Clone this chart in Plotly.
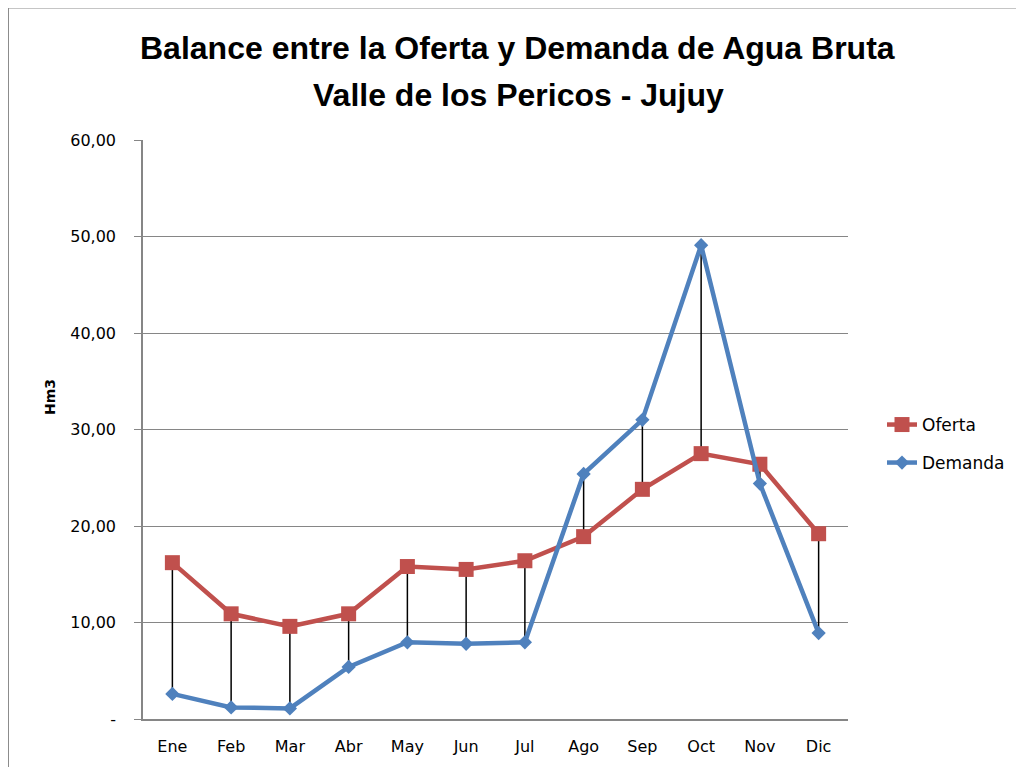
import plotly.graph_objects as go

meses = ["Ene", "Feb", "Mar", "Abr", "May", "Jun", "Jul", "Ago", "Sep", "Oct", "Nov", "Dic"]
oferta = [16.2, 10.9, 9.6, 10.9, 15.8, 15.5, 16.4, 18.9, 23.8, 27.5, 26.4, 19.2]
demanda = [2.6, 1.2, 1.1, 5.4, 7.95, 7.8, 7.95, 25.4, 31.0, 49.1, 24.4, 8.9]
y_ticks = [0, 10, 20, 30, 40, 50, 60]
y_ticktext = ["-", "10,00", "20,00", "30,00", "40,00", "50,00", "60,00"]

OFF = 8  # default page body margin
W, H = 1024 - OFF, 767 - OFF
# plot area in page pixels
PL, PR, PT, PB = 143, 848, 140, 719
L, T = PL - OFF, PT - OFF
R, B = W - (PR - OFF), H - (PB - OFF)
pw, ph = PR - PL, PB - PT

TXT = "DejaVu Sans"
TITLE = "Liberation Sans"

# high-low connector lines
hx, hy = [], []
for m, o, d in zip(meses, oferta, demanda):
    hx += [m, m, None]
    hy += [o, d, None]

def px_x(x):
    return (x - PL) / pw

def px_y(y):
    return (PB - y) / ph

fig = go.Figure()
fig.add_trace(go.Scatter(x=hx, y=hy, mode="lines", line=dict(color="black", width=1.5),
                         showlegend=False, hoverinfo="skip"))
fig.add_trace(go.Scatter(x=meses, y=oferta, name="Oferta", mode="lines+markers",
                         line=dict(color="#C0504D", width=4.5),
                         marker=dict(symbol="square", size=15, color="#C0504D"), legend="legend"))
fig.add_trace(go.Scatter(x=meses, y=demanda, name="Demanda", mode="lines+markers",
                         line=dict(color="#4F81BD", width=4.5),
                         marker=dict(symbol="diamond", size=11, color="#4F81BD"), legend="legend2"))

leg_common = dict(xanchor="left", yanchor="middle", bgcolor="rgba(0,0,0,0)",
                  font=dict(family=TXT, size=17, color="black"), itemwidth=30)

fig.update_layout(
    width=W, height=H,
    margin=dict(l=L, r=R, t=T, b=B, pad=0),
    paper_bgcolor="white", plot_bgcolor="white",
    font=dict(family=TXT, color="black"),
    legend=dict(x=px_x(882), y=px_y(425), **leg_common),
    legend2=dict(x=px_x(882), y=px_y(463), **leg_common),
    xaxis=dict(type="category", showgrid=False, showline=True, linecolor="#868686", linewidth=1.5,
               ticks="", tickfont=dict(family=TXT, size=16, color="black"), ticklabelstandoff=12,
               range=[-0.5, 11.5], fixedrange=True),
    yaxis=dict(range=[0, 60], tickvals=y_ticks, ticktext=y_ticktext, showgrid=True,
               gridcolor="#868686", gridwidth=1.3, showline=True, linecolor="#868686", linewidth=1.5,
               ticks="outside", ticklen=7, tickcolor="#868686", ticklabelstandoff=15,
               tickfont=dict(family=TXT, size=16, color="black"),
               zeroline=False, fixedrange=True),
    annotations=[
        dict(text="<b>Balance entre la Oferta y Demanda de Agua Bruta</b>", xref="paper", yref="paper",
             x=px_x(517), y=px_y(48), xanchor="center", yanchor="middle", showarrow=False,
             font=dict(family=TITLE, size=32, color="black")),
        dict(text="<b>Valle de los Pericos - Jujuy</b>", xref="paper", yref="paper",
             x=px_x(518), y=px_y(95), xanchor="center", yanchor="middle", showarrow=False,
             font=dict(family=TITLE, size=32, color="black")),
        dict(text="<b>Hm3</b>", xref="paper", yref="paper", x=px_x(50), y=px_y(397),
             xanchor="center", yanchor="middle", textangle=-90, showarrow=False,
             font=dict(family=TXT, size=14, color="black")),
    ],
    shapes=[
        dict(type="line", xref="paper", yref="paper", x0=px_x(8), x1=px_x(1030), y0=px_y(7.5), y1=px_y(7.5),
             line=dict(color="#8C8C8C", width=2)),
        dict(type="line", xref="paper", yref="paper", x0=px_x(8), x1=px_x(8), y0=px_y(7.5), y1=px_y(780),
             line=dict(color="#8C8C8C", width=2)),
    ],
)

fig.write_html("out.html")
